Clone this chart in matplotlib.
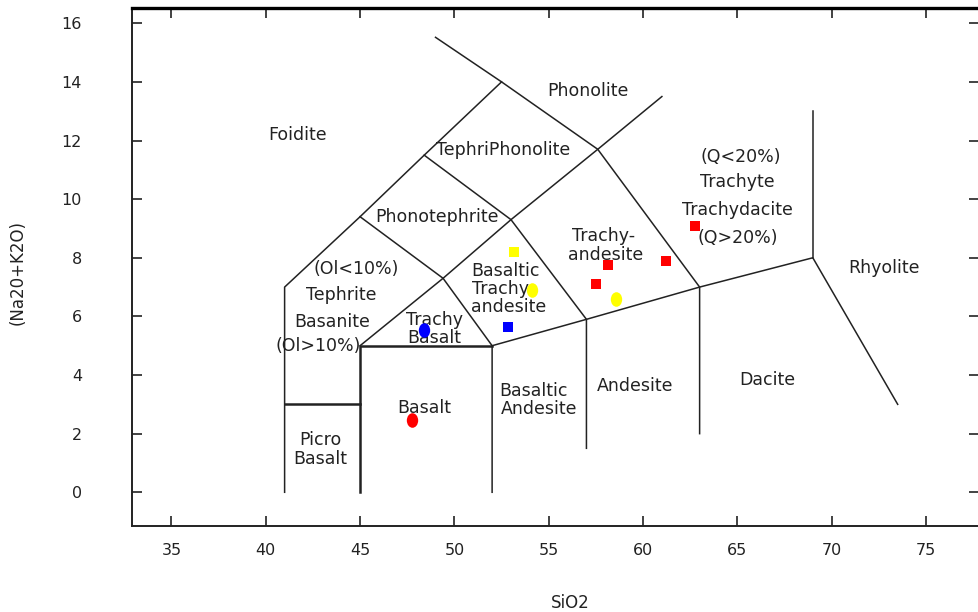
import matplotlib
matplotlib.use("Agg")
import matplotlib.pyplot as plt
from matplotlib.markers import MarkerStyle
from matplotlib.transforms import Affine2D

plt.rcParams["font.family"] = ["DejaVu Sans"]

# TAS field boundaries (SiO2, Na2O+K2O)
boundaries = [
    [(41, 0), (41, 7), (45, 9.4), (48.4, 11.5), (52.5, 14)],
    [(49, 15.52), (52.5, 14), (57.6, 11.7), (63, 7), (63, 2)],
    [(52, 0), (52, 5), (57, 5.9), (63, 7), (69, 8), (73.5, 3)],
    [(69, 8), (69, 13)],
    [(57, 1.5), (57, 5.9), (53, 9.3), (48.4, 11.5)],
    [(45, 5), (49.4, 7.3), (53, 9.3), (57.6, 11.7), (61, 13.5)],
    [(45, 9.4), (49.4, 7.3), (52, 5)],
]
thick_boundaries = [
    [(41, 3), (45, 3)],
    [(45, 0), (45, 5), (52, 5)],
]

# field names: (text, x, y)
field_labels = [
    ("Foidite", 41.7, 12.2),
    ("Phonolite", 57.1, 13.68),
    ("TephriPhonolite", 52.56, 11.66),
    ("Phonotephrite", 49.06, 9.4),
    ("(Ol<10%)", 44.8, 7.6),
    ("Tephrite", 44.0, 6.72),
    ("Basanite", 43.5, 5.8),
    ("(Ol>10%)", 42.8, 5.0),
    ("Trachy", 48.95, 5.87),
    ("Basalt", 48.95, 5.28),
    ("Basalt", 48.4, 2.88),
    ("Picro", 42.9, 1.8),
    ("Basalt", 42.9, 1.14),
    ("Basaltic", 52.7, 7.55),
    ("Trachy", 52.45, 6.92),
    ("andesite", 52.9, 6.31),
    ("Trachy-", 57.9, 8.73),
    ("andesite", 58.0, 8.1),
    ("(Q<20%)", 65.2, 11.45),
    ("Trachyte", 65.0, 10.6),
    ("Trachydacite", 65.0, 9.63),
    ("(Q>20%)", 65.0, 8.67),
    ("Rhyolite", 72.8, 7.65),
    ("Basaltic", 54.2, 3.44),
    ("Andesite", 54.5, 2.85),
    ("Andesite", 59.6, 3.64),
    ("Dacite", 66.6, 3.84),
]

# samples
red_sq_x = [58.13, 57.5, 61.2, 62.75]
red_sq_y = [7.75, 7.1, 7.9, 9.07]
yellow_sq_x = [53.17]
yellow_sq_y = [8.19]
blue_sq_x = [52.86]
blue_sq_y = [5.64]
red_ci_x = [47.73]
red_ci_y = [2.48]
yellow_ci_x = [54.1, 58.55]
yellow_ci_y = [6.9, 6.58]
blue_ci_x = [48.37]
blue_ci_y = [5.52]

fig = plt.figure(figsize=(9.79, 6.12), dpi=100)
ax = fig.add_axes([132 / 979, 86 / 612, 1 - 132 / 979, 518 / 612])

ink = "#222222"
for seg in boundaries:
    xs, ys = zip(*seg)
    ax.plot(xs, ys, color=ink, lw=1.1)
for seg in thick_boundaries:
    xs, ys = zip(*seg)
    ax.plot(xs, ys, color=ink, lw=1.8)

for txt, x, y in field_labels:
    ax.text(x, y, txt, ha="center", va="center", fontsize=12.5, color=ink)

ellipse = MarkerStyle("o", transform=Affine2D().scale(0.78, 1.0))
ax.scatter(red_sq_x, red_sq_y, marker="s", s=48, color="#ff0000", zorder=3, linewidths=0)
ax.scatter(yellow_sq_x, yellow_sq_y, marker="s", s=48, color="#ffff00", zorder=3, linewidths=0)
ax.scatter(blue_sq_x, blue_sq_y, marker="s", s=48, color="#0000ff", zorder=3, linewidths=0)
ax.scatter(red_ci_x, red_ci_y, marker=ellipse, s=110, color="#ff0000", zorder=3, linewidths=0)
ax.scatter(yellow_ci_x, yellow_ci_y, marker=ellipse, s=110, color="#ffff00", zorder=3, linewidths=0)
ax.scatter(blue_ci_x, blue_ci_y, marker=ellipse, s=110, color="#0000ff", zorder=3, linewidths=0)

ax.set_xlim(32.91, 77.81)
ax.set_ylim(-1.15, 16.52)
ax.set_xticks([35, 40, 45, 50, 55, 60, 65, 70, 75])
ax.set_yticks([0, 2, 4, 6, 8, 10, 12, 14, 16])
ax.tick_params(axis="both", direction="in", length=7, width=1.2, colors=ink,
               labelsize=11.5, top=True, right=True)
ax.tick_params(axis="x", pad=12)
ax.tick_params(axis="y", pad=36)
for side in ["left", "bottom"]:
    ax.spines[side].set_linewidth(1.4)
    ax.spines[side].set_color(ink)
ax.spines["top"].set_linewidth(2.4)
ax.spines["top"].set_color("black")
ax.spines["right"].set_visible(False)

ax.set_xlabel("SiO2", fontsize=12, color=ink)
ax.xaxis.set_label_coords((570 - 132) / 847, -(594 - 526) / 518)
ax.set_ylabel("(Na20+K2O)", fontsize=12, color=ink)
ax.yaxis.set_label_coords(-(132 - 27) / 847, 0.49)

fig.savefig("out.png", dpi=100)
